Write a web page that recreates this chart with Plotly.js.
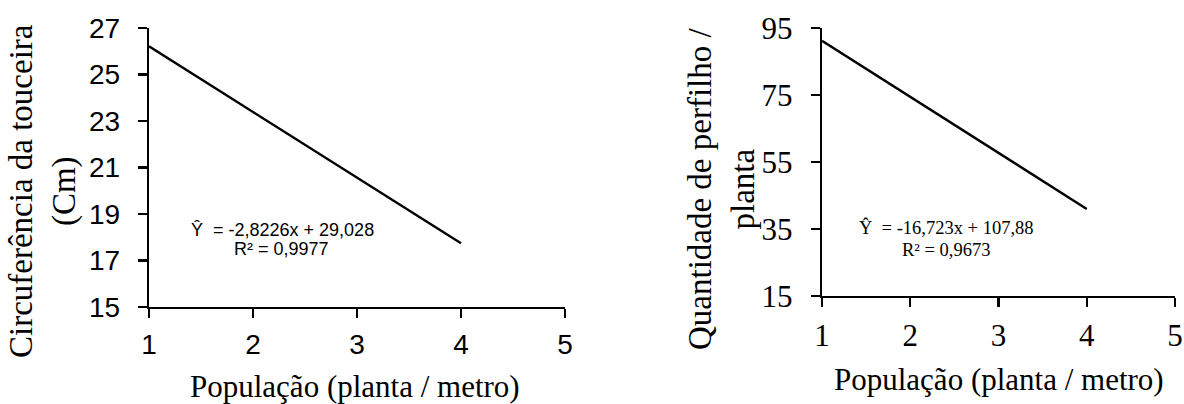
<!DOCTYPE html>
<html>
<head>
<meta charset="utf-8">
<script src="https://cdn.plot.ly/plotly-3.0.1.min.js"></script>
<style>html,body{margin:0;padding:0;background:#fff;}#chart{width:1184px;height:404px;}</style>
</head>
<body>
<div id="chart"></div>
<script>
// Data
const populacao = [1, 2, 3, 4];
const circunferencia = [26.21, 23.38, 20.56, 17.74];
const perfilho = [91.16, 74.43, 57.71, 40.99];

const xTicks = [1, 2, 3, 4, 5];
const yTicksLeft = [15, 17, 19, 21, 23, 25, 27];
const yTicksRight = [15, 35, 55, 75, 95];

const eqLeft = "Ŷ  = -2,8226x + 29,028";
const r2Left = "R² = 0,9977";
const eqRight = "Ŷ  = -16,723x + 107,88";
const r2Right = "R² = 0,9673";

const xTitle = "População (planta / metro)";
const yTitleLeft = "Circuferência da touceira<br>(Cm)";
const yTitleRight = "Quantidade de perfilho /<br>planta";

const W = 1184, H = 404;
const px = v => v / W;
const py = v => 1 - v / H;

const SANS = "'Liberation Sans', Arial, sans-serif";
const SERIF = "'Liberation Serif', 'Times New Roman', serif";

function axisStyle(font, size) {
  return {
    showline: true, linewidth: 2.2, linecolor: "#000",
    ticks: "outside", ticklen: 9, tickwidth: 2.2, tickcolor: "#000",
    ticklabelstandoff: 12,
    showgrid: false, zeroline: false, fixedrange: true,
    tickfont: {family: font, size: size, color: "#000"}
  };
}

const traces = [
  {x: populacao, y: circunferencia, xaxis: "x", yaxis: "y", mode: "lines",
   line: {color: "#000", width: 2.4}, hoverinfo: "skip"},
  {x: populacao, y: perfilho, xaxis: "x2", yaxis: "y2", mode: "lines",
   line: {color: "#000", width: 2.4}, hoverinfo: "skip"}
];

const xL = axisStyle(SANS, 28); xL.ticklabelstandoff = 2;
const xR = axisStyle(SERIF, 31); xR.ticklabelstandoff = 2;

const layout = {
  width: W, height: H,
  margin: {l: 0, r: 0, t: 0, b: 0},
  paper_bgcolor: "#fff", plot_bgcolor: "#fff",
  showlegend: false,
  xaxis: Object.assign(xL, {
    domain: [px(149), px(565)], range: [1, 5], tickvals: xTicks, anchor: "y"
  }),
  yaxis: Object.assign(axisStyle(SANS, 28), {
    domain: [py(307), py(28)], range: [15, 27], tickvals: yTicksLeft, anchor: "x"
  }),
  xaxis2: Object.assign(xR, {
    domain: [px(822), px(1175)], range: [1, 5], tickvals: xTicks, anchor: "y2"
  }),
  yaxis2: Object.assign(axisStyle(SERIF, 31), {
    domain: [py(296), py(28)], range: [15, 95], tickvals: yTicksRight, anchor: "x2"
  }),
  annotations: [
    {text: eqLeft, x: px(282.5), y: py(230), xref: "paper", yref: "paper",
     xanchor: "center", yanchor: "middle", showarrow: false,
     font: {family: SANS, size: 18, color: "#000"}},
    {text: r2Left, x: px(281.5), y: py(249), xref: "paper", yref: "paper",
     xanchor: "center", yanchor: "middle", showarrow: false,
     font: {family: SANS, size: 18, color: "#000"}},
    {text: eqRight, x: px(946.5), y: py(228), xref: "paper", yref: "paper",
     xanchor: "center", yanchor: "middle", showarrow: false,
     font: {family: SERIF, size: 18.5, color: "#000"}},
    {text: r2Right, x: px(946), y: py(250), xref: "paper", yref: "paper",
     xanchor: "center", yanchor: "middle", showarrow: false,
     font: {family: SERIF, size: 18.5, color: "#000"}},
    {text: xTitle, x: px(355), y: py(386), xref: "paper", yref: "paper",
     xanchor: "center", yanchor: "middle", showarrow: false,
     font: {family: SERIF, size: 31, color: "#000"}},
    {text: xTitle, x: px(998.5), y: py(379), xref: "paper", yref: "paper",
     xanchor: "center", yanchor: "middle", showarrow: false,
     font: {family: SERIF, size: 31, color: "#000"}},
    {text: yTitleLeft, x: px(43), y: py(191), xref: "paper", yref: "paper",
     xanchor: "center", yanchor: "middle", showarrow: false, textangle: -90,
     font: {family: SERIF, size: 33, color: "#000"}},
    {text: yTitleRight, x: px(721), y: py(189), xref: "paper", yref: "paper",
     xanchor: "center", yanchor: "middle", showarrow: false, textangle: -90,
     font: {family: SERIF, size: 33, color: "#000"}}
  ]
};

Plotly.newPlot("chart", traces, layout, {staticPlot: true, displayModeBar: false});
</script>
</body>
</html>
